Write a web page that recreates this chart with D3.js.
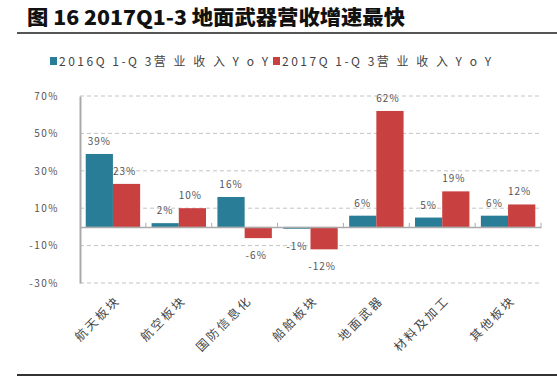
<!DOCTYPE html>
<html><head><meta charset="utf-8">
<script src="https://cdn.jsdelivr.net/npm/d3@7"></script>
<style>body{margin:0;background:#fff}svg{display:block}</style>
</head><body>
<svg id="c" width="557" height="378"></svg>
<script>
const categories = ["航天板块","航空板块","国防信息化","船舶板块","地面武器","材料及加工","其他板块"];
const series2016 = [39, 2, 16, -1, 6, 5, 6];
const series2017 = [23, 10, -6, -12, 62, 19, 12];
const seriesNames = ["2016Q 1-Q 3营 业 收 入 Y o Y", "2017Q 1-Q 3营 业 收 入 Y o Y"];
const yTicks = [70, 50, 30, 10, -10, -30];
const colors = ["#2a7d96", "#c8403f"];
const titleText = "图 16 2017Q1-3 地面武器营收增速最快";

const svg = d3.select("#c");
const font = "'Noto Sans CJK SC', 'Noto Sans', sans-serif";
const L = 80, R = 541, T = 96, B = 283;

// title
svg.append("text").attr("x", 27).attr("y", 25).attr("font-family", font)
  .attr("font-weight", "900").attr("font-size", 20).attr("fill", "#111")
  .attr("textLength", 378).attr("lengthAdjust", "spacingAndGlyphs").text(titleText);
svg.append("line").attr("x1", 17).attr("x2", 557).attr("y1", 33).attr("y2", 33)
  .attr("stroke", "#555").attr("stroke-width", 2);
svg.append("line").attr("x1", 17).attr("x2", 557).attr("y1", 375).attr("y2", 375)
  .attr("stroke", "#333").attr("stroke-width", 2);

// legend
const legX = [50, 273];
seriesNames.forEach((n, i) => {
  svg.append("rect").attr("x", legX[i]).attr("y", 57).attr("width", 7).attr("height", 8).attr("fill", colors[i]);
  svg.append("text").attr("x", legX[i] + 9).attr("y", 66).attr("font-family", font).attr("font-size", 12)
    .attr("fill", "#444").attr("textLength", 209).attr("lengthAdjust", "spacing").text(n);
});

const y = d3.scaleLinear().domain([-30, 70]).range([B, T]);
const x0 = d3.scaleBand().domain(categories).range([L, R]).paddingInner(0).paddingOuter(0);
const x1 = d3.scaleBand().domain([0, 1]).range([0, x0.bandwidth()]).paddingInner(0).paddingOuter(0.21);

// grid
const g = svg.append("g");
g.selectAll(".grid").data(yTicks).join("line")
  .attr("x1", L).attr("x2", R).attr("y1", d => y(d)).attr("y2", d => y(d))
  .attr("stroke", "#c4c4c4").attr("stroke-width", 1).attr("stroke-dasharray", "4,3");

// y axis
const yAxis = d3.axisLeft(y).tickValues(yTicks).tickSize(0).tickPadding(21).tickFormat(d => d + "%");
const ya = svg.append("g").attr("transform", `translate(${L},0)`).call(yAxis);
ya.select(".domain").attr("stroke", "#aaa").attr("stroke-width", 2);
ya.selectAll("text").attr("font-family", font).attr("font-size", 10).attr("fill", "#555")
  .attr("letter-spacing", "1.5px");

// bars
const data = categories.map((c, i) => ({c, v: [series2016[i], series2017[i]]}));
const groups = svg.append("g").selectAll("g").data(data).join("g")
  .attr("transform", d => `translate(${x0(d.c)},0)`);
groups.selectAll("rect").data(d => d.v.map((v, k) => ({v, k}))).join("rect")
  .attr("x", d => x1(d.k)).attr("width", x1.bandwidth())
  .attr("y", d => y(Math.max(0, d.v))).attr("height", d => Math.abs(y(d.v) - y(0)))
  .attr("fill", d => colors[d.k]);

// zero axis
const xAxis = d3.axisBottom(x0).tickSize(0).tickFormat("");
const xa = svg.append("g").attr("transform", `translate(0,${y(0)})`).call(xAxis);
xa.select(".domain").attr("stroke", "#aaa").attr("stroke-width", 1.5);
svg.append("g").selectAll("line").data(categories.slice(1).concat(["_end"])).join("line")
  .attr("x1", d => d === "_end" ? R : x0(d)).attr("x2", d => d === "_end" ? R : x0(d))
  .attr("y1", y(0) - 4).attr("y2", y(0)).attr("stroke", "#aaa");

// value labels
groups.selectAll(".lbl").data(d => d.v.map((v, k) => ({v, k}))).join("text")
  .attr("x", d => x1(d.k) + x1.bandwidth() / 2 + (d.k === 1 ? -2 : 0))
  .attr("y", d => d.v >= 0 ? y(d.v) - 9 : y(d.v) + 21)
  .attr("text-anchor", "middle").attr("font-family", font).attr("font-size", 10)
  .attr("fill", "#555").attr("letter-spacing", "1px").text(d => d.v + "%");

// category labels
svg.append("g").selectAll("text").data(categories).join("text")
  .attr("transform", d => `translate(${x0(d) + x0.bandwidth() / 2 + 8},${B + 18}) rotate(-45)`)
  .attr("text-anchor", "end").attr("font-family", font).attr("font-size", 12)
  .attr("fill", "#444").attr("letter-spacing", "2.5px").text(d => d);
</script>
</body></html>
